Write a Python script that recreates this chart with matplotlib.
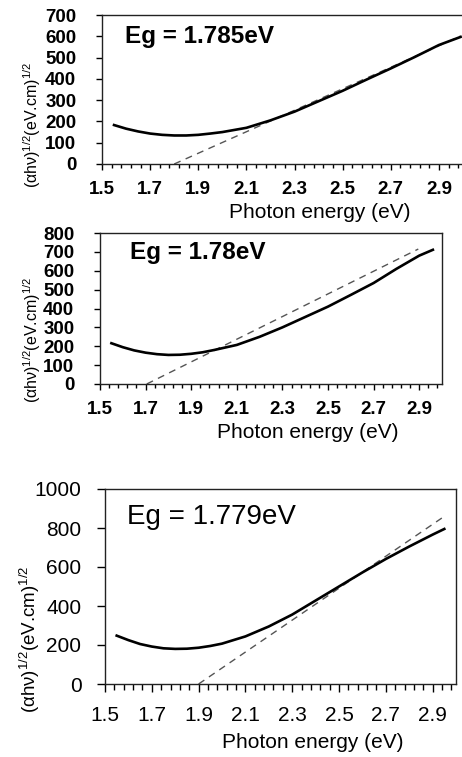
import numpy as np
import matplotlib
matplotlib.use('Agg')
import matplotlib.pyplot as plt
from matplotlib.ticker import FixedLocator, NullFormatter

plt.rcParams['font.family'] = ['Liberation Sans', 'DejaVu Sans']
plt.rcParams['mathtext.fontset'] = 'custom'
plt.rcParams['mathtext.rm'] = 'Liberation Sans'
plt.rcParams['mathtext.it'] = 'Liberation Sans:italic'

# Data
energy_a = [1.55, 1.60, 1.65, 1.70, 1.75, 1.80, 1.85, 1.90, 1.95, 2.00,
            2.10, 2.20, 2.30, 2.40, 2.50, 2.60, 2.70, 2.80, 2.90, 2.99]
signal_a = [183, 166, 153, 143, 137, 134, 134, 137, 143, 150,
            170, 205, 246, 295, 344, 397, 449, 503, 559, 597]
fit_a_x = [1.80, 2.99]
fit_a_y = [0, 601]

energy_b = [1.55, 1.60, 1.65, 1.70, 1.75, 1.80, 1.85, 1.90, 1.95, 2.00,
            2.10, 2.20, 2.30, 2.40, 2.50, 2.60, 2.70, 2.80, 2.90, 2.96]
signal_b = [216, 195, 178, 166, 158, 154, 155, 160, 168, 180,
            207, 250, 300, 355, 410, 472, 535, 610, 680, 711]
fit_b_x = [1.705, 2.896]
fit_b_y = [0, 715]

energy_c = [1.55, 1.60, 1.65, 1.70, 1.75, 1.80, 1.85, 1.90, 1.95, 2.00,
            2.10, 2.20, 2.30, 2.40, 2.50, 2.60, 2.70, 2.80, 2.90, 2.95]
signal_c = [248, 225, 205, 192, 183, 180, 181, 186, 195, 207,
            244, 295, 356, 428, 500, 572, 641, 705, 766, 795]
fit_c_x = [1.90, 2.954]
fit_c_y = [0, 863]

x_ticks = [1.5, 1.7, 1.9, 2.1, 2.3, 2.5, 2.7, 2.9]
x_labels = ['1.5', '1.7', '1.9', '2.1', '2.3', '2.5', '2.7', '2.9']
y_ticks_a = [0, 100, 200, 300, 400, 500, 600, 700]
y_ticks_b = [0, 100, 200, 300, 400, 500, 600, 700, 800]
y_ticks_c = [0, 200, 400, 600, 800, 1000]

eg_a = 'Eg = 1.785eV'
eg_b = 'Eg = 1.78eV'
eg_c = 'Eg = 1.779eV'
x_title = 'Photon energy (eV)'
y_title = r'(αhν)$^{1/2}$(eV.cm)$^{1/2}$'

W, H = 462, 757
fig = plt.figure(figsize=(W / 100, H / 100), dpi=100)


def add_panel(left, top, right, bottom):
    return fig.add_axes([left / W, 1 - bottom / H, (right - left) / W, (bottom - top) / H])


def style_panel(ax, y_ticks, weight, size, tick_len, pad_x, pad_y):
    ax.set_xlim(1.5, 3.0)
    ax.set_ylim(y_ticks[0], y_ticks[-1])
    ax.xaxis.set_major_locator(FixedLocator(x_ticks))
    ax.set_xticklabels(x_labels)
    ax.xaxis.set_minor_locator(FixedLocator(np.arange(1.5, 3.001, 0.04)))
    ax.xaxis.set_minor_formatter(NullFormatter())
    ax.set_yticks(y_ticks)
    ax.set_yticklabels([str(v) for v in y_ticks])
    ax.tick_params(axis='x', which='major', direction='out', length=tick_len,
                   width=1, pad=pad_x, labelsize=size)
    ax.tick_params(axis='x', which='minor', direction='out', length=tick_len * 0.7, width=1)
    ax.tick_params(axis='y', direction='out', length=tick_len, width=1,
                   pad=pad_y, labelsize=size)
    for lab in ax.get_xticklabels() + ax.get_yticklabels():
        lab.set_fontweight(weight)
    for sp in ax.spines.values():
        sp.set_linewidth(1.0)
        sp.set_color('#222222')


# Panel 1
ax1 = add_panel(102, 15, 463, 164)
ax1.plot(fit_a_x, fit_a_y, color='#555555', lw=1.0, ls=(0, (5, 4)))
ax1.plot(energy_a, signal_a, color='black', lw=1.9)
style_panel(ax1, y_ticks_a, 'bold', 13.5, 4.5, 8, 14)
fig.text(125 / W, 1 - 37 / H, eg_a, fontsize=17.5, fontweight='bold', ha='left', va='center')
fig.text(320 / W, 1 - 213 / H, x_title, fontsize=15, ha='center', va='center')
fig.text(32 / W, 1 - 125 / H, y_title, fontsize=11.5, rotation=90, ha='center', va='center')

# Panel 2
ax2 = add_panel(100, 233, 442, 384)
ax2.plot(fit_b_x, fit_b_y, color='#555555', lw=1.0, ls=(0, (5, 4)))
ax2.plot(energy_b, signal_b, color='black', lw=1.9)
style_panel(ax2, y_ticks_b, 'bold', 13.5, 4.5, 8, 14)
fig.text(130 / W, 1 - 253 / H, eg_b, fontsize=17.5, fontweight='bold', ha='left', va='center')
fig.text(308 / W, 1 - 433 / H, x_title, fontsize=15, ha='center', va='center')
fig.text(32 / W, 1 - 340 / H, y_title, fontsize=11.5, rotation=90, ha='center', va='center')

# Panel 3
ax3 = add_panel(105, 489, 456, 684)
ax3.plot(fit_c_x, fit_c_y, color='#555555', lw=1.0, ls=(0, (5, 4)))
ax3.plot(energy_c, signal_c, color='black', lw=1.9)
style_panel(ax3, y_ticks_c, 'normal', 15, 6, 10, 11)
fig.text(127 / W, 1 - 517 / H, eg_c, fontsize=20, ha='left', va='center')
fig.text(313 / W, 1 - 743 / H, x_title, fontsize=15, ha='center', va='center')
fig.text(30 / W, 1 - 639 / H, y_title, fontsize=13.5, rotation=90, ha='center', va='center')

fig.savefig('out.png', dpi=100)
